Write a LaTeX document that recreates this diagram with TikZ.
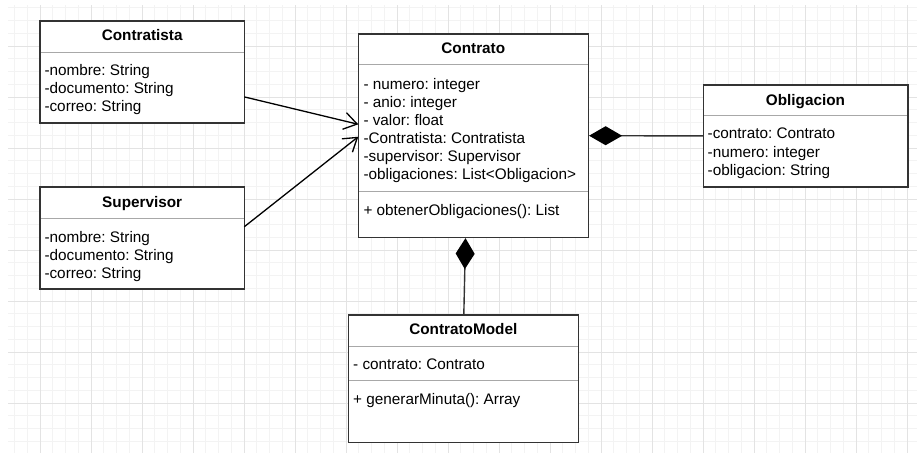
\documentclass[tikz,border=0pt]{standalone}
\usepackage{fontspec}
\setmainfont{Liberation Sans}
\frenchspacing
\usetikzlibrary{arrows.meta,calc}
\definecolor{gminor}{HTML}{F3F3F3}
\definecolor{gmajor}{HTML}{E3E3E3}
\definecolor{bord}{HTML}{333333}
\definecolor{sepc}{HTML}{A8A8A8}
\begin{document}
\begin{tikzpicture}[x=1pt,y=-1pt,
  umlbox/.style={draw=bord, line width=1.6pt, fill=white, rectangle, inner sep=0pt, outer sep=0pt},
  titletext/.style={font=\fontsize{15.3}{18}\selectfont\bfseries, anchor=mid, inner sep=0pt, yshift=-3.2pt},
  attrtext/.style={font=\fontsize{15.3}{18}\selectfont\frenchspacing, anchor=mid west, inner sep=0pt, yshift=-3.2pt},
  sepline/.style={draw=sepc, line width=1pt},
  assoc/.style={draw=black, line width=1.3pt, -{Straight Barb[length=13pt,width=17pt,line width=1.3pt]}},
  compo/.style={draw=bord, line width=1.4pt, {Diamond[length=#1,width=19pt,color=black,fill=black]}-},
  compo/.default=33pt
]
\useasboundingbox (0,0) rectangle (917,453);
\fill[white] (0,0) rectangle (917,453);
% grid
\begin{scope}
\clip (8,5) rectangle (917,453);
\foreach \i in {0,...,73} {
  \draw[gminor, line width=1pt] ({-11+12.75*\i},0) -- ({-11+12.75*\i},453);
}
\foreach \i in {0,...,36} {
  \draw[gminor, line width=1pt] (0,{-5+12.75*\i}) -- (917,{-5+12.75*\i});
}
\foreach \i in {0,...,18} {
  \draw[gmajor, line width=1pt] ({-11+51*\i},0) -- ({-11+51*\i},453);
}
\foreach \i in {0,...,9} {
  \draw[gmajor, line width=1pt] (0,{-5+51*\i}) -- (917,{-5+51*\i});
}
\end{scope}

% Contratista
\node[umlbox, minimum width=204.3pt, minimum height=102.3pt] (ctista) at (142.2,71.9) {};
\draw[sepline] (40.8,52.3) -- (243.5,52.3);
\node[titletext] (ctistaT) at (142.2,34.5) {Contratista};
\node[attrtext] (ctistaA1) at (44.3,70) {-nombre: String};
\node[attrtext] (ctistaA2) at (44.3,88) {-documento: String};
\node[attrtext] (ctistaA3) at (44.3,106) {-correo: String};

% Supervisor
\node[umlbox, minimum width=204.3pt, minimum height=102.3pt] (sup) at (142.2,237.9) {};
\draw[sepline] (40.8,218.3) -- (243.5,218.3);
\node[titletext] (supT) at (142.2,201.7) {Supervisor};
\node[attrtext] (supA1) at (44.3,236.7) {-nombre: String};
\node[attrtext] (supA2) at (44.3,254.5) {-documento: String};
\node[attrtext] (supA3) at (44.3,272.5) {-correo: String};

% Contrato
\node[umlbox, minimum width=230pt, minimum height=203.3pt] (contrato) at (473.3,135.7) {};
\draw[sepline] (359.1,64.3) -- (587.5,64.3);
\draw[sepline] (359.1,191) -- (587.5,191);
\node[titletext] (contratoT) at (473.3,47.7) {Contrato};
\node[attrtext] (contratoA1) at (363.3,83.3) {- numero: integer};
\node[attrtext] (contratoA2) at (363.3,101.5) {- anio: integer};
\node[attrtext] (contratoA3) at (363.3,119.7) {- valor: float};
\node[attrtext] (contratoA4) at (363.3,137.7) {-Contratista: Contratista};
\node[attrtext] (contratoA5) at (363.3,155.7) {-supervisor: Supervisor};
\node[attrtext] (contratoA6) at (363.3,174) {-obligaciones: List<Obligacion>};
\node[attrtext] (contratoM1) at (363.3,209.3) {+ obtenerObligaciones(): List};

% Obligacion
\node[umlbox, minimum width=204.4pt, minimum height=101.7pt] (oblig) at (805.5,135.9) {};
\draw[sepline] (704.1,115.7) -- (906.9,115.7);
\node[titletext] (obligT) at (805.5,99.3) {Obligacion};
\node[attrtext] (obligA1) at (707.5,133) {-contrato: Contrato};
\node[attrtext] (obligA2) at (707.5,151.2) {-numero: integer};
\node[attrtext] (obligA3) at (707.5,169.5) {-obligacion: String};

% ContratoModel
\node[umlbox, minimum width=230pt, minimum height=127.3pt] (cmodel) at (463.3,378.7) {};
\draw[sepline] (349.1,346) -- (577.5,346);
\draw[sepline] (349.1,380) -- (577.5,380);
\node[titletext] (cmodelT) at (463.3,329) {ContratoModel};
\node[attrtext] (cmodelA1) at (353,364) {- contrato: Contrato};
\node[attrtext] (cmodelM1) at (353,398.3) {+ generarMinuta(): Array};

% connectors
\draw[assoc] ([yshift=-25pt]ctista.east) -- ([yshift=11.4pt]contrato.west);
\draw[assoc] ([yshift=11.2pt]sup.east) -- ([yshift=-1pt]contrato.west);
\draw[compo] ([xshift=0.8pt]contrato.east) -- (oblig.west);
\draw[compo=31pt] ([xshift=-7.8pt,yshift=-0.8pt]contrato.south) -- ([xshift=0.5pt]cmodel.north);
\end{tikzpicture}
\end{document}
